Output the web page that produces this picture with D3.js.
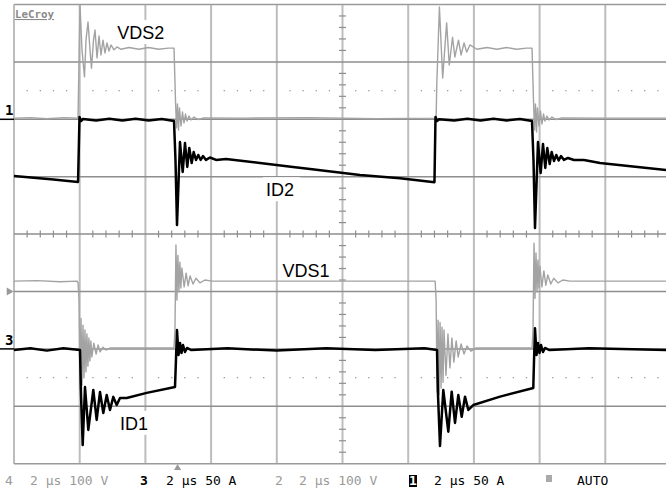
<!DOCTYPE html>
<html>
<head>
<meta charset="utf-8">
<script src="https://cdn.jsdelivr.net/npm/d3@7"></script>
<style>
  body { margin: 0; background: #fff; }
  svg { display: block; }
  .lbl { font-family: "Liberation Sans", Arial, sans-serif; font-size: 18px; fill: #000; }
  .stat { font-family: "DejaVu Sans Mono", monospace; font-size: 13px; }
</style>
</head>
<body>
<div id="scope"></div>
<script>
// time in µs, values in V (VDS) or A (ID)
const vds2 = [[0,2],[0.5,3],[1.0,1],[1.5,3],[1.948,2],[1.985,120],[2.009,199],[2.07,121],[2.146,74],[2.192,138],[2.253,169.5],[2.314,121],[2.359,89],[2.42,138],[2.466,155.5],[2.527,107],[2.588,145],[2.648,112],[2.709,138],[2.77,115.5],[2.831,133],[2.892,119],[2.953,129.5],[3.044,121],[3.135,126],[3.257,122],[3.5,125],[3.8,122],[4.1,125],[4.4,122],[4.7,124],[4.871,124],[4.916,33.6],[4.947,-15],[4.977,26.7],[5.008,-18.6],[5.038,19.7],[5.084,-11.7],[5.129,12.7],[5.175,-6.4],[5.221,9.2],[5.266,-3],[5.327,5.7],[5.388,-1.2],[5.48,4],[5.6,-0.3],[5.784,2.3],[7,2],[9,3],[11,1],[12.85,2],[12.87,60],[12.95,195.6],[13.05,72],[13.17,168],[13.25,94.6],[13.35,143],[13.42,108.5],[13.53,138],[13.61,112],[13.70,133],[13.78,117],[13.88,129.5],[14.09,122],[14.4,125],[14.7,122],[15.0,125],[15.3,122],[15.6,124],[15.769,124],[15.814,33.6],[15.845,-18.6],[15.875,26.7],[15.906,-22.1],[15.936,19.7],[15.982,-11.7],[16.027,14.5],[16.073,-8.2],[16.119,9.2],[16.164,-3],[16.225,5.7],[16.286,-1.2],[16.377,4],[16.499,-0.3],[16.682,2.3],[18,2],[19.85,2]];

const id2 = [[0,-49.4],[0.6,-51],[1.2,-52.5],[1.95,-54.6],[1.994,2],[2.04,-1.5],[2.1,0.3],[2.5,-1],[2.9,0.5],[3.3,-1],[3.7,0.5],[4.1,-1],[4.5,0.3],[4.871,-1.5],[4.916,-35.4],[4.962,-92.1],[5.053,-19.8],[5.135,-45.9],[5.205,-20.7],[5.275,-41.5],[5.336,-25],[5.409,-38.1],[5.47,-28.5],[5.54,-35.4],[5.61,-31.1],[5.683,-35.4],[5.753,-32],[5.845,-35.4],[5.966,-33.3],[6.149,-35.4],[6.454,-34.6],[7.489,-38.1],[8.493,-41.5],[9.011,-43.3],[10.533,-48.6],[11.75,-51.3],[12.8,-54.8],[12.831,2],[12.877,-1.5],[12.938,0],[13.4,-1],[13.8,0.5],[14.2,-1],[14.6,0.5],[15.0,-1],[15.4,0.3],[15.769,-1.5],[15.814,-35.4],[15.86,-94.7],[15.951,-19.8],[16.033,-46.8],[16.103,-21.5],[16.173,-42.4],[16.234,-25],[16.307,-38.9],[16.368,-28.5],[16.438,-36.3],[16.508,-31.1],[16.581,-35.9],[16.651,-32],[16.743,-35.4],[16.864,-33.7],[17.047,-35.4],[17.352,-35.4],[17.839,-38.1],[19.848,-44.2]];

const vds1 = [[0,118],[0.7,119],[1.4,117],[1.92,118],[1.95,115],[1.98,85],[2.01,-71],[2.04,53],[2.07,-63],[2.10,41.5],[2.13,-50.5],[2.16,33],[2.19,-40],[2.22,26],[2.25,-30],[2.28,19],[2.31,-21],[2.34,14],[2.37,-14],[2.43,10],[2.50,-9],[2.56,7],[2.62,-5],[2.71,3],[2.80,-2],[2.92,1.5],[4.87,1.5],[4.90,33],[4.93,181],[4.96,85],[4.99,163],[5.02,99],[5.05,151],[5.08,106],[5.11,141],[5.18,108],[5.24,132],[5.30,110],[5.36,127],[5.45,113],[5.54,123],[5.66,115],[5.81,120],[6.03,118],[12.82,118],[12.85,85],[12.88,-75],[12.91,50],[12.94,-80],[12.97,46],[13.00,-68],[13.03,38],[13.06,-58],[13.09,33],[13.15,-46],[13.21,26],[13.27,-33],[13.33,19],[13.39,-23],[13.46,14],[13.52,-14],[13.61,8.5],[13.70,-9],[13.79,5],[13.91,-4],[14.06,1.5],[15.77,1.5],[15.80,33],[15.83,184],[15.86,88],[15.89,167],[15.92,99],[15.95,155],[15.98,106],[16.01,144],[16.07,108],[16.13,136],[16.19,111],[16.25,129],[16.34,113],[16.43,123],[16.56,115],[16.71,120],[16.92,118],[19.85,118]];

const id1 = [[0,-1],[0.5,0.5],[1.0,-1.5],[1.5,0.5],[2.009,-1],[2.04,-40],[2.091,-83.7],[2.161,-33.2],[2.262,-70.6],[2.414,-35.8],[2.517,-61.9],[2.618,-37.5],[2.718,-55.8],[2.822,-40.2],[2.922,-53.2],[3.023,-41.8],[3.126,-48.9],[3.227,-42.8],[3.431,-42.8],[4.04,-38.3],[4.901,-33.2],[4.93,-10],[4.962,16.5],[5.008,-5.3],[5.053,5.1],[5.099,-3.6],[5.145,3.4],[5.205,-2.7],[5.266,0.8],[5.4,-1],[6.5,0.5],[8,-1.5],[9.5,0.5],[11,-1],[12.5,0.5],[12.877,-1],[12.907,-40],[12.968,-84.6],[13.068,-35.8],[13.221,-72.1],[13.324,-37.3],[13.425,-64.5],[13.525,-40.2],[13.629,-59.1],[13.729,-41.6],[13.83,-53.2],[13.982,-48.9],[14.795,-41.6],[15.808,-34],[15.83,-10],[15.86,18],[15.906,-5.3],[15.951,5.1],[15.997,-3.6],[16.043,3.4],[16.104,-2.7],[16.164,0.8],[16.3,-1],[17.5,0.5],[19.85,-1]];

// channel setup: volts/amps per division and ground offset in divisions
const channels = [
  {name: "VDS1", data: vds1, perDiv: 100, offset: -2, color: "#a3a3a3", width: 1.4},
  {name: "VDS2", data: vds2, perDiv: 100, offset: 2, color: "#a3a3a3", width: 1.4},
  {name: "ID1", data: id1, perDiv: 50, offset: -2, color: "#000", width: 2.5},
  {name: "ID2", data: id2, perDiv: 50, offset: 2, color: "#000", width: 2.5}
];

const traceLabels = [
  {text: "VDS2", t: 3.14, div: 3.4},
  {text: "ID2", t: 7.67, div: 0.66},
  {text: "VDS1", t: 8.17, div: -0.75},
  {text: "ID1", t: 3.23, div: -3.41}
];

const statusItems = [
  {ch: "4", txt: "2 µs 100 V", color: "#9a9a9a", cx: 5, tx: 30, bold: false, inv: false},
  {ch: "3", txt: "2 µs 50 A", color: "#000", cx: 140, tx: 166, bold: true, inv: false},
  {ch: "2", txt: "2 µs 100 V", color: "#9a9a9a", cx: 275, tx: 299, bold: false, inv: false},
  {ch: "1", txt: "2 µs 50 A", color: "#000", cx: 409, tx: 434, bold: true, inv: true}
];

const W = 666, H = 489;
const plotLeft = 14, plotTop = 4.5, divX = 65.7, divY = 57.4;

const svg = d3.select("#scope").append("svg")
    .attr("width", W)
    .attr("height", H);

svg.append("rect").attr("width", W).attr("height", H).attr("fill", "#fff");

const x = d3.scaleLinear().domain([0, 20]).range([plotLeft, plotLeft + 10 * divX]);
const y = d3.scaleLinear().domain([-4, 4]).range([plotTop + 8 * divY, plotTop]);

const grid = svg.append("g");

// vertical grid lines
grid.selectAll(".vg")
    .data(d3.range(0, 22, 2))
    .enter().append("line")
    .attr("x1", d => x(d)).attr("x2", d => x(d))
    .attr("y1", y(4)).attr("y2", y(-4))
    .attr("stroke", "#bdbdbd")
    .attr("stroke-width", 2);

// horizontal grid lines
grid.selectAll(".hg")
    .data(d3.range(-4, 5))
    .enter().append("line")
    .attr("x1", x(0)).attr("x2", W)
    .attr("y1", d => y(d)).attr("y2", d => y(d))
    .attr("stroke", d => (d === 4 || d === -4) ? "#9a9a9a" : "#8e8e8e")
    .attr("stroke-width", 1.5);

// minor ticks on the centre axes
const minorT = d3.range(0, 20.01, 0.4).filter(t => Math.abs(t / 2 - Math.round(t / 2)) > 0.01);
grid.selectAll(".tx")
    .data(minorT)
    .enter().append("line")
    .attr("x1", d => x(d)).attr("x2", d => x(d))
    .attr("y1", y(0) - 3.5).attr("y2", y(0) + 3.5)
    .attr("stroke", "#8e8e8e").attr("stroke-width", 1.2);

const minorV = d3.range(-4, 4.01, 0.2).filter(v => Math.abs(v - Math.round(v)) > 0.01);
grid.selectAll(".ty")
    .data(minorV)
    .enter().append("line")
    .attr("x1", x(10) - 3.5).attr("x2", x(10) + 3.5)
    .attr("y1", d => y(d)).attr("y2", d => y(d))
    .attr("stroke", "#8e8e8e").attr("stroke-width", 1.2);

// dotted rows
[2.5, -2.5].forEach(r => {
    grid.selectAll(null)
        .data(minorT)
        .enter().append("rect")
        .attr("x", d => x(d) - 0.6).attr("y", y(r) - 0.6)
        .attr("width", 1.3).attr("height", 1.3)
        .attr("fill", "#9a9a9a");
});

// label backgrounds hide the graticule behind the text
const boxes = svg.append("g");

// traces
const line = ch => d3.line()
    .x(d => x(d[0]))
    .y(d => y(d[1] / ch.perDiv + ch.offset));

const traces = svg.append("g");
channels.forEach(ch => {
    traces.append("path")
        .datum(ch.data)
        .attr("d", line(ch))
        .attr("fill", "none")
        .attr("stroke", ch.color)
        .attr("stroke-width", ch.width)
        .attr("stroke-linejoin", "round");
});

// trace labels
svg.selectAll(".lbl")
    .data(traceLabels)
    .enter().append("text")
    .attr("class", "lbl")
    .attr("x", d => x(d.t))
    .attr("y", d => y(d.div))
    .text(d => d.text)
    .each(function() {
        const b = this.getBBox();
        boxes.append("rect")
            .attr("x", b.x - 3).attr("y", b.y - 3)
            .attr("width", b.width + 9).attr("height", b.height + 4)
            .attr("fill", "#fff");
    });

// ground markers
[{t: "1", div: 2}, {t: "3", div: -2}].forEach(m => {
    svg.append("text")
        .attr("x", 5).attr("y", y(m.div) - 4)
        .attr("font-family", "DejaVu Sans Mono, monospace")
        .attr("font-size", 14).attr("font-weight", "bold")
        .text(m.t);
    svg.append("line")
        .attr("x1", 0).attr("x2", plotLeft)
        .attr("y1", y(m.div)).attr("y2", y(m.div))
        .attr("stroke", "#000").attr("stroke-width", 1.5);
});

// trigger level marker
svg.append("path")
    .attr("d", d3.symbol().type(d3.symbolTriangle).size(28)())
    .attr("transform", `translate(9,${y(-1)}) rotate(90)`)
    .attr("fill", "#9a9a9a");

// trigger position marker
svg.append("path")
    .attr("d", d3.symbol().type(d3.symbolTriangle).size(22)())
    .attr("transform", `translate(${x(4.98)},468)`)
    .attr("fill", "#9a9a9a");

// logo
svg.append("text")
    .attr("x", 15).attr("y", 18)
    .attr("font-family", "DejaVu Sans Mono, monospace")
    .attr("font-size", 10.8).attr("font-weight", "bold")
    .attr("fill", "#8a8a8a")
    .attr("text-decoration", "underline")
    .text("LeCroy");

// status bar
const status = svg.append("g").attr("class", "stat");
statusItems.forEach(s => {
    if (s.inv) {
        status.append("rect")
            .attr("x", s.cx).attr("y", 475).attr("width", 8).attr("height", 12)
            .attr("fill", "#000");
    }
    status.append("text")
        .attr("x", s.cx).attr("y", 485)
        .attr("font-weight", s.bold ? "bold" : "normal")
        .attr("fill", s.inv ? "#fff" : s.color)
        .text(s.ch);
    status.append("text")
        .attr("x", s.tx).attr("y", 485)
        .attr("fill", s.color)
        .text(s.txt);
});
status.append("rect")
    .attr("x", 546).attr("y", 475).attr("width", 6).attr("height", 7)
    .attr("fill", "#aaa");
status.append("text")
    .attr("x", 577).attr("y", 485)
    .attr("fill", "#000")
    .text("AUTO");
</script>
</body>
</html>
